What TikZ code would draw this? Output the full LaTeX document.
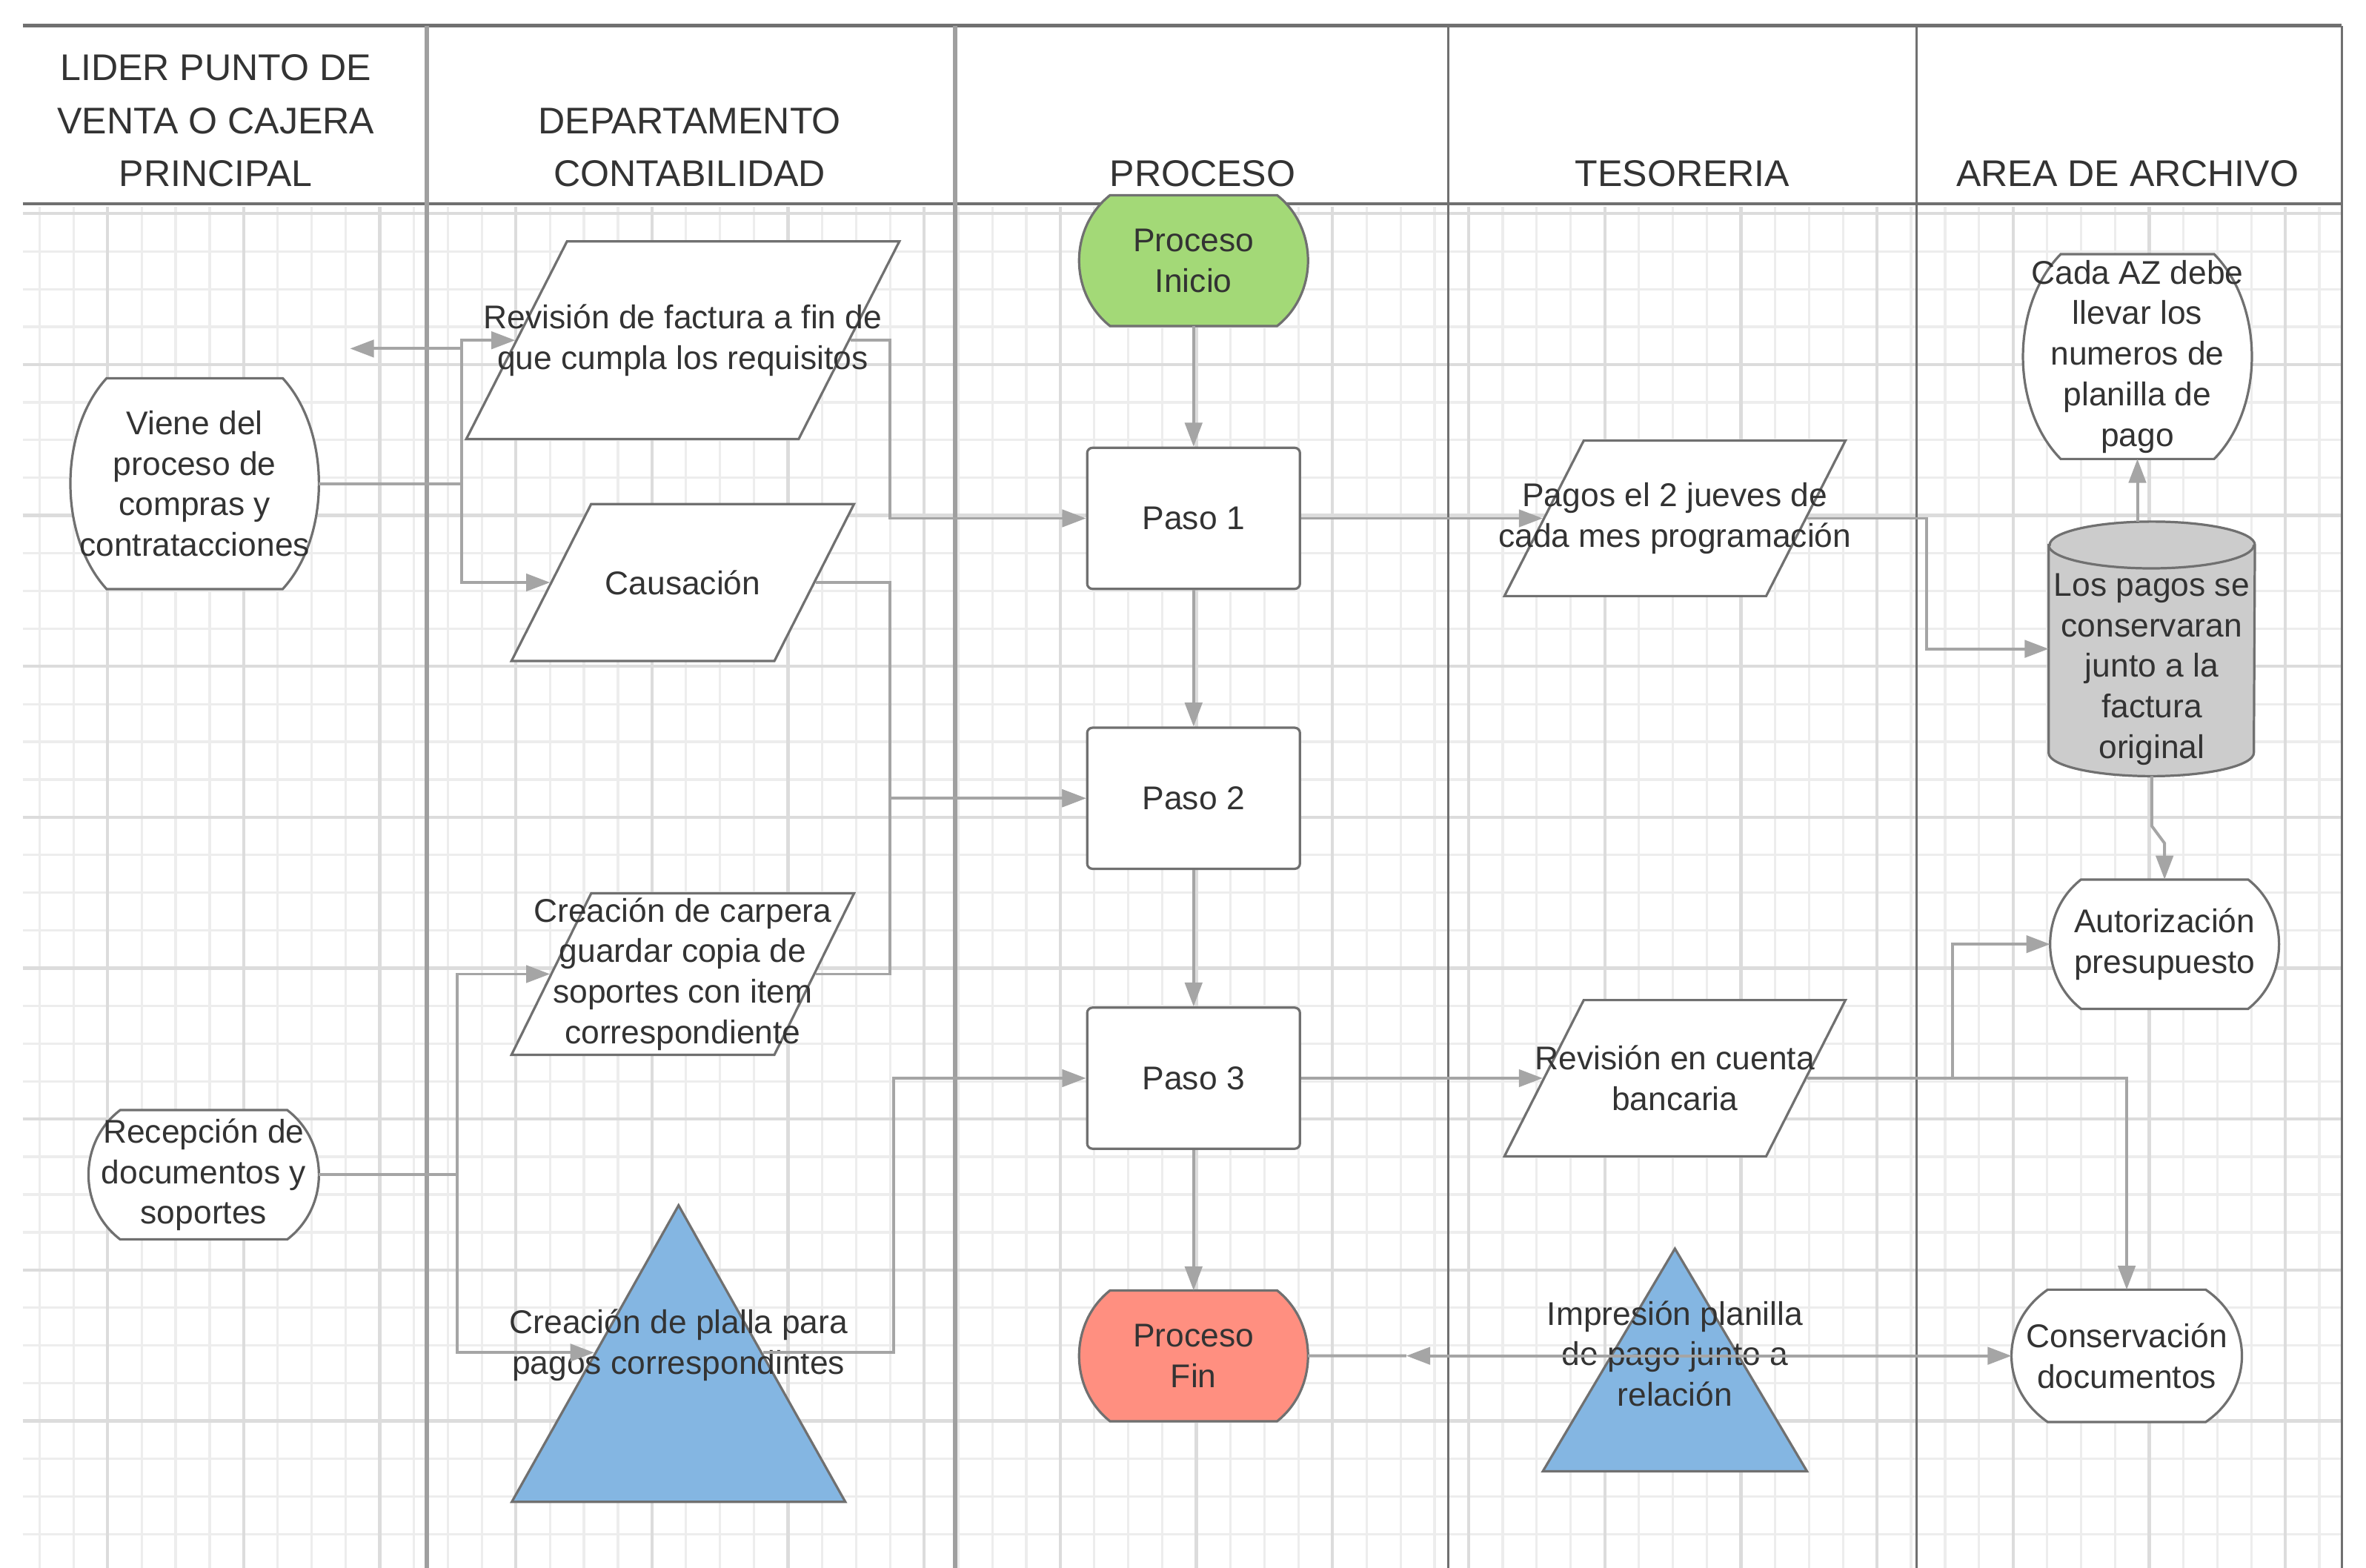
\documentclass[tikz,border=0pt]{standalone}
\usepackage{fontspec}
\setmainfont{Liberation Sans}
\usetikzlibrary{positioning,shapes.geometric,arrows.meta,calc}
\definecolor{cLinea}{HTML}{A5A5A5}
\definecolor{cBorde}{HTML}{707070}
\definecolor{cTexto}{HTML}{333333}
\definecolor{cVerde}{HTML}{A3D977}
\definecolor{cRojo}{HTML}{FF8F80}
\definecolor{cAzul}{HTML}{84B6E2}
\definecolor{cGris}{HTML}{CCCCCC}
\definecolor{cRejilla}{HTML}{EDEDED}
\definecolor{cRejilla2}{HTML}{DCDCDC}
\pgfdeclarelayer{fondo}
\pgfdeclarelayer{formas}
\pgfsetlayers{fondo,formas,main}
% contorno de barril detras de un nodo: nombre, relleno, entrante
\newcommand{\barril}[3]{%
  \begin{pgfonlayer}{formas}
  \filldraw[fill=#2, draw=cBorde, line width=0.9pt]
    ([xshift=#3]#1.north west) -- ([xshift=-#3]#1.north east)
    .. controls ($(#1.north east)!0.25!(#1.south east)+(#3/3,0)$)
       and ($(#1.north east)!0.75!(#1.south east)+(#3/3,0)$) .. ([xshift=-#3]#1.south east)
    -- ([xshift=#3]#1.south west)
    .. controls ($(#1.south west)!0.25!(#1.north west)-(#3/3,0)$)
       and ($(#1.south west)!0.75!(#1.north west)-(#3/3,0)$) .. cycle;
  \end{pgfonlayer}}
% cilindro detras de un nodo: nombre, relleno, radio x, radio y
\newcommand{\cilindro}[4]{%
  \begin{pgfonlayer}{formas}
  \filldraw[fill=#2, draw=cBorde, line width=0.9pt]
    ([yshift=-#4]#1.north west) -- ([yshift=#4]#1.south west)
    arc[start angle=180, end angle=360, x radius=#3, y radius=#4]
    -- ([yshift=-#4]#1.north east)
    arc[start angle=0, end angle=180, x radius=#3, y radius=#4] -- cycle;
  \draw[cBorde, line width=0.9pt] ([yshift=-#4]#1.north west)
    arc[start angle=180, end angle=360, x radius=#3, y radius=#4];
  \end{pgfonlayer}}
\begin{document}
\begin{tikzpicture}[x=0.2mm, y=-0.2mm, node distance=3.71cm,
  font=\fontsize{12.4}{15.3}\selectfont, text=cTexto,
  txt/.style={align=center, text=cTexto},
  titulo/.style={font=\fontsize{14}{19.9}\selectfont, align=center},
  terminal/.style={rectangle, align=center, inner sep=0pt, minimum width=3.02cm, minimum height=1.72cm},
  paso/.style={rectangle, rounded corners=2pt, draw=cBorde, line width=0.9pt, fill=white,
    minimum width=2.82cm, minimum height=1.87cm},
  datos/.style={trapezium, trapezium left angle=66.5, trapezium right angle=113.5, trapezium stretches=true,
    draw=cBorde, line width=0.9pt, fill=white, inner sep=1pt},
  tri/.style={isosceles triangle, shape border rotate=90, isosceles triangle stretches=true,
    draw=cBorde, line width=0.9pt, fill=cAzul, inner sep=1pt},
  conector/.style={draw=cLinea, line width=1.1pt},
  flecha/.style={conector, -{Triangle[length=9pt,width=6.5pt]}}
]
\useasboundingbox (0,0) rectangle (1568,1039);

\begin{pgfonlayer}{fondo}
\fill[white] (0,0) rectangle (1568,1039);
% rejilla
\foreach \i in {1,...,68}
  \draw[cRejilla, line width=0.9pt] ({3.65+22.55*\i},137) -- ({3.65+22.55*\i},1039);
\foreach \j in {0,...,35}
  \draw[cRejilla, line width=0.9pt] (15,{141.6+25*\j}) -- (1552,{141.6+25*\j});
\foreach \i in {3,7,...,67}
  \draw[cRejilla2, line width=1.2pt] ({3.65+22.55*\i},137) -- ({3.65+22.55*\i},1039);
\foreach \j in {0,4,...,32}
  \draw[cRejilla2, line width=1.2pt] (15,{141.6+25*\j}) -- (1552,{141.6+25*\j});
% carriles
\draw[cBorde, line width=1.2pt] (15,17) -- (1552,17);
\draw[cBorde, line width=1.2pt] (15,135) -- (1552,135);
\draw[gray!75, line width=1.6pt] (283,17) -- (283,1039);
\draw[gray!75, line width=1.6pt] (633,17) -- (633,1039);
\draw[cBorde, line width=0.8pt] (960,17) -- (960,1039);
\draw[cBorde, line width=0.8pt] (1270,17) -- (1270,1039);
\draw[cBorde, line width=1pt] (1552,17) -- (1552,1039);
\end{pgfonlayer}

\node[titulo] (H1) at (143,80) {LIDER PUNTO DE\\VENTA O CAJERA\\PRINCIPAL};
\node[titulo] (H2) at (457,97.5) {DEPARTAMENTO\\CONTABILIDAD};
\node[titulo] (H3) at (797,115) {PROCESO};
\node[titulo] (H4) at (1115,115) {TESORERIA};
\node[titulo] (H5) at (1410,115) {AREA DE ARCHIVO};

% lider
\node[terminal, minimum width=3.28cm, minimum height=2.78cm] (V) at (129,320.5)
  {Viene del\\proceso de\\compras y\\contratacciones};
\node[terminal, minimum width=3.04cm, minimum height=1.7cm] (R) at (135,778.5)
  {Recepción de\\documentos y\\soportes};

% contabilidad
\node[datos, minimum width=5.74cm, minimum height=2.62cm,
  label={[txt]center:Revisión de factura a fin de\\que cumpla los requisitos}] (C1) at (452.5,225.5) {};
\node[datos, minimum width=4.54cm, minimum height=2.08cm,
  label={[txt]center:Causación}] (C2) at (452.5,386) {};
\node[datos, minimum width=4.54cm, minimum height=2.14cm,
  label={[txt]center:Creación de carpera\\guardar copia de\\soportes con item\\correspondiente}] (C3) at (452.5,645.5) {};
\node[tri, minimum width=4.42cm, minimum height=3.93cm, anchor=apex,
  label={[txt, yshift=0.79cm]center:Creación de plalla para\\pagos correspondintes}] (C4) at (449.7,796.7) {};

% proceso
\node[terminal] (I) at (791,172.7) {Proceso\\Inicio};
\node[paso] (P1) at (791,343.5) {Paso 1};
\node[paso, below of=P1] (P2) {Paso 2};
\node[paso, below of=P2] (P3) {Paso 3};
\node[terminal, node distance=3.68cm, below of=P3] (F) {Proceso\\Fin};

% tesoreria
\node[datos, minimum width=4.52cm, minimum height=2.06cm, node distance=6.38cm, right of=P1,
  label={[txt]center:Pagos el 2 jueves de\\cada mes programación}] (T1) {};
\node[datos, minimum width=4.52cm, minimum height=2.07cm, node distance=6.38cm, right of=P3,
  label={[txt]center:Revisión en cuenta\\bancaria}] (T2) {};
\node[tri, minimum width=3.5cm, minimum height=2.95cm, anchor=apex,
  label={[txt, yshift=0.57cm]center:Impresión planilla\\de pago junto a\\relación}] (T3) at (1110,825.4) {};

% archivo
\node[terminal, minimum height=2.7cm] (A1) at (1416.5,236.3)
  {Cada AZ debe\\llevar los\\numeros de\\planilla de\\pago};
\node[terminal, minimum width=2.72cm, minimum height=3.36cm,
  label={[txt, yshift=-0.27cm]center:Los pagos se\\conservaran\\junto a la\\factura\\original}] (A2) at (1426,430) {};
\node[terminal, minimum height=1.7cm] (A3) at (1434.5,625.7) {Autorización\\presupuesto};
\node[terminal, minimum width=3.04cm, minimum height=1.74cm] (A4) at (1409.4,898.5) {Conservación\\documentos};

\barril{V}{white}{0.48cm}
\barril{R}{white}{0.42cm}
\barril{I}{cVerde}{0.41cm}
\barril{F}{cRojo}{0.41cm}
\barril{A1}{white}{0.5cm}
\barril{A3}{white}{0.41cm}
\barril{A4}{white}{0.48cm}
\cilindro{A2}{cGris}{1.36cm}{0.31cm}

% conectores
\coordinate (bV) at (306,0);
\coordinate (bR) at (303,0);
\coordinate (bC) at (590,0);
\coordinate (bC4) at (592,0);
\coordinate (bT1) at (1277,0);
\coordinate (bT2) at (1294,0);
\coordinate (s) at (232,231);
\coordinate (m) at (932,898.5);

\draw[flecha] (V) -- (V -| bV) |- (C1);
\draw[flecha] (V) -- (V -| bV) |- (C2);
\draw[flecha] (bV |- s) -- (s);
\draw[flecha] (R) -- (R -| bR) |- (C3);
\draw[flecha] (R) -- (R -| bR) |- (C4.left side);
\draw[flecha] (C1) -- (C1 -| bC) |- (P1);
\draw[flecha] (C2) -- (C2 -| bC) |- (P2);
\draw[flecha] (C3) -- (C3 -| bC) |- (P2);
\draw[flecha] (C4.right side) -- (C4.right side -| bC4) |- (P3);
\draw[flecha] (I) -- (P1);
\draw[flecha] (P1) -- (P2);
\draw[flecha] (P2) -- (P3);
\draw[flecha] (P3) -- (F);
\draw[flecha] (P1) -- (T1);
\draw[flecha] (P3) -- (T2);
\draw[flecha] (T1) -- (T1 -| bT1) |- (A2);
\draw[flecha] (T2) -- (T2 -| bT2) |- (A3);
\draw[flecha] (T2) -| (A4);
\draw[flecha] (A2.north -| A1) -- (A1);
\draw[flecha] (A2.south) -- ++(0,33) -- ($(A3.north)+(0,-24)$) -- (A3.north);
\draw[flecha] (m -| T3) -- (m);
\draw[conector] (m) -- (F);
\draw[flecha] (m -| T3) -- (A4);
\end{tikzpicture}
\end{document}
